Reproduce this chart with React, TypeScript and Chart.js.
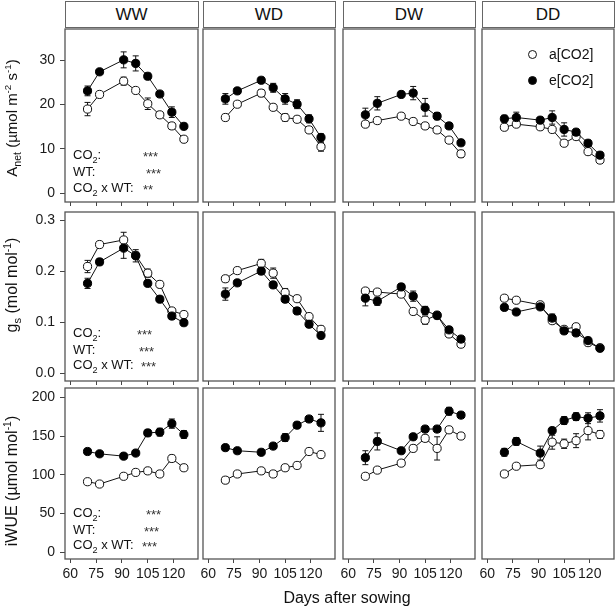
import React, { useEffect, useRef } from "react";
import { Chart, registerables } from "chart.js";
Chart.register(...registerables);

// ---------- data ----------
const days = [70, 77, 91, 98, 105, 112, 119, 126];
const treatments = ["WW", "WD", "DW", "DD"];
const xTickValues = [60, 75, 90, 105, 120];
const anetTicks = [0, 10, 20, 30];
const gsTicks = [0, 0.1, 0.2, 0.3];
const iwueTicks = [0, 50, 100, 150, 200];

// Anet (µmol m-2 s-1)
const anetAmbWW = [19.0, 22.3, 25.3, 23.2, 20.2, 17.7, 15.2, 12.2];
const anetElevWW = [23.1, 27.4, 30.1, 29.3, 26.4, 22.4, 18.3, 15.1];
const anetAmbWD = [17.1, 20.1, 22.6, 19.4, 17.1, 16.7, 14.3, 10.5];
const anetElevWD = [21.3, 23.1, 25.5, 23.8, 21.3, 20.1, 16.8, 12.6];
const anetAmbDW = [15.6, 16.4, 17.4, 16.2, 15.2, 14.3, 12.0, 8.9];
const anetElevDW = [17.7, 20.3, 22.3, 22.6, 19.4, 17.4, 15.2, 11.4];
const anetAmbDD = [14.9, 15.6, 15.0, 14.4, 11.3, 12.8, 9.4, 7.5];
const anetElevDD = [16.8, 17.1, 16.5, 17.1, 14.4, 13.8, 11.3, 8.6];

const anetAmbErrWW = [1.5, 0.6, 0.9, 0.5, 1.3, 0.5, 0.7, 0.5];
const anetElevErrWW = [1.1, 0.5, 1.8, 1.7, 0.7, 0.5, 1.2, 0.6];
const anetAmbErrWD = [0.7, 0.6, 0.8, 0.5, 0.8, 0.5, 0.6, 1.0];
const anetElevErrWD = [1.2, 0.5, 0.6, 1.0, 1.2, 1.0, 0.9, 0.8];
const anetAmbErrDW = [0.6, 0.6, 0.5, 0.5, 0.5, 0.5, 0.5, 0.8];
const anetElevErrDW = [1.5, 1.5, 0.5, 1.5, 2.0, 0.8, 0.5, 0.6];
const anetAmbErrDD = [0.6, 0.6, 0.5, 0.6, 0.5, 0.5, 0.6, 0.6];
const anetElevErrDD = [0.8, 1.2, 0.6, 1.5, 1.5, 0.6, 0.5, 0.6];

// gs (mol mol-1)
const gsAmbWW = [0.209, 0.252, 0.261, 0.231, 0.196, 0.174, 0.122, 0.115];
const gsElevWW = [0.176, 0.218, 0.245, 0.230, 0.176, 0.145, 0.112, 0.099];
const gsAmbWD = [0.185, 0.201, 0.215, 0.196, 0.158, 0.146, 0.111, 0.086];
const gsElevWD = [0.155, 0.177, 0.200, 0.173, 0.145, 0.122, 0.096, 0.074];
const gsAmbDW = [0.161, 0.159, 0.155, 0.121, 0.104, 0.114, 0.077, 0.057];
const gsElevDW = [0.147, 0.141, 0.169, 0.151, 0.123, 0.113, 0.085, 0.067];
const gsAmbDD = [0.147, 0.143, 0.134, 0.103, 0.086, 0.091, 0.060, 0.050];
const gsElevDD = [0.129, 0.120, 0.130, 0.108, 0.083, 0.079, 0.064, 0.049];

const gsAmbErrWW = [0.012, 0.006, 0.015, 0.006, 0.008, 0.006, 0.005, 0.006];
const gsElevErrWW = [0.010, 0.006, 0.020, 0.012, 0.006, 0.005, 0.006, 0.005];
const gsAmbErrWD = [0.006, 0.005, 0.008, 0.010, 0.008, 0.005, 0.006, 0.006];
const gsElevErrWD = [0.012, 0.005, 0.006, 0.006, 0.006, 0.006, 0.006, 0.006];
const gsAmbErrDW = [0.005, 0.005, 0.005, 0.005, 0.008, 0.005, 0.005, 0.006];
const gsElevErrDW = [0.015, 0.008, 0.006, 0.010, 0.008, 0.006, 0.005, 0.005];
const gsAmbErrDD = [0.005, 0.005, 0.005, 0.005, 0.005, 0.005, 0.005, 0.005];
const gsElevErrDD = [0.005, 0.005, 0.005, 0.008, 0.005, 0.005, 0.005, 0.004];

// iWUE (µmol mol-1)
const iwueAmbWW = [91, 88, 98, 103, 105, 101, 121, 109];
const iwueElevWW = [130, 127, 124, 128, 154, 155, 166, 152];
const iwueAmbWD = [93, 101, 105, 101, 109, 112, 130, 126];
const iwueElevWD = [135, 131, 129, 137, 148, 164, 172, 167];
const iwueAmbDW = [98, 106, 115, 134, 147, 134, 158, 150];
const iwueElevDW = [122, 143, 131, 149, 159, 159, 182, 177];
const iwueAmbDD = [101, 111, 113, 142, 140, 144, 157, 152];
const iwueElevDD = [129, 143, 128, 157, 170, 175, 173, 176];

const iwueAmbErrWW = [3, 3, 3, 3, 3, 3, 4, 3];
const iwueElevErrWW = [3, 3, 3, 3, 4, 5, 6, 5];
const iwueAmbErrWD = [4, 3, 3, 3, 3, 3, 3, 3];
const iwueElevErrWD = [3, 3, 3, 3, 5, 3, 3, 11];
const iwueAmbErrDW = [3, 3, 3, 4, 4, 15, 3, 3];
const iwueElevErrDW = [9, 11, 3, 3, 3, 3, 5, 3];
const iwueAmbErrDD = [3, 3, 3, 9, 6, 9, 12, 5];
const iwueElevErrDD = [5, 5, 9, 3, 5, 5, 7, 8];

const ambSeries = [
  [anetAmbWW, anetAmbWD, anetAmbDW, anetAmbDD],
  [gsAmbWW, gsAmbWD, gsAmbDW, gsAmbDD],
  [iwueAmbWW, iwueAmbWD, iwueAmbDW, iwueAmbDD],
];
const elevSeries = [
  [anetElevWW, anetElevWD, anetElevDW, anetElevDD],
  [gsElevWW, gsElevWD, gsElevDW, gsElevDD],
  [iwueElevWW, iwueElevWD, iwueElevDW, iwueElevDD],
];
const ambErrors = [
  [anetAmbErrWW, anetAmbErrWD, anetAmbErrDW, anetAmbErrDD],
  [gsAmbErrWW, gsAmbErrWD, gsAmbErrDW, gsAmbErrDD],
  [iwueAmbErrWW, iwueAmbErrWD, iwueAmbErrDW, iwueAmbErrDD],
];
const elevErrors = [
  [anetElevErrWW, anetElevErrWD, anetElevErrDW, anetElevErrDD],
  [gsElevErrWW, gsElevErrWD, gsElevErrDW, gsElevErrDD],
  [iwueElevErrWW, iwueElevErrWD, iwueElevErrDW, iwueElevErrDD],
];
const rowTicks = [anetTicks, gsTicks, iwueTicks];

// ---------- layout ----------
const FONT = "'Liberation Sans', Arial, sans-serif";
const cols = [
  { left: 65, right: 198 },
  { left: 203, right: 335 },
  { left: 343, right: 475 },
  { left: 482, right: 614 },
];
const rows = [
  { top: 29, bottom: 202, min: -1.96, max: 37.06 },
  { top: 212, bottom: 381, min: -0.0151, max: 0.3157 },
  { top: 388, bottom: 559, min: -8.8, max: 212 },
];
const X_MIN = 56.9;
const X_MAX = 134.2;

const boxAndErrors = {
  id: "boxAndErrors",
  beforeDatasetsDraw(chart: any) {
    const ctx = chart.ctx;
    const xs = chart.scales.x;
    const ys = chart.scales.y;
    ctx.save();
    ctx.strokeStyle = "#111";
    ctx.lineWidth = 1;
    chart.data.datasets.forEach((ds: any) => {
      const errs = ds.errors;
      if (!errs) return;
      ds.data.forEach((p: any, i: number) => {
        const px = xs.getPixelForValue(p.x);
        const y1 = ys.getPixelForValue(p.y + errs[i]);
        const y2 = ys.getPixelForValue(p.y - errs[i]);
        ctx.beginPath();
        ctx.moveTo(px, y1);
        ctx.lineTo(px, y2);
        ctx.moveTo(px - 3, y1);
        ctx.lineTo(px + 3, y1);
        ctx.moveTo(px - 3, y2);
        ctx.lineTo(px + 3, y2);
        ctx.stroke();
      });
    });
    ctx.restore();
  },
  afterDraw(chart: any) {
    const ctx = chart.ctx;
    const a = chart.chartArea;
    ctx.save();
    ctx.strokeStyle = "#555";
    ctx.lineWidth = 1.3;
    ctx.strokeRect(a.left, a.top, a.right - a.left, a.bottom - a.top);
    ctx.restore();
  },
};

function Panel({ r, c }: { r: number; c: number }) {
  const ref = useRef<HTMLCanvasElement>(null);
  const col = cols[c];
  const row = rows[r];
  const L = c === 0 ? col.left : 4;
  const R = 1;
  const T = 1;
  const B = r === 2 ? 40 : 8;
  const w = L + (col.right - col.left) + R;
  const h = T + (row.bottom - row.top) + B;

  useEffect(() => {
    const mk = (vals: number[]) => days.map((d, i) => ({ x: d, y: vals[i] }));
    const chart = new Chart(ref.current as HTMLCanvasElement, {
      type: "line",
      data: {
        datasets: [
          {
            label: "e[CO2]",
            data: mk(elevSeries[r][c]),
            errors: elevErrors[r][c],
            borderColor: "#111",
            borderWidth: 1,
            pointRadius: 4.1,
            pointBackgroundColor: "#000",
            pointBorderColor: "#000",
            pointBorderWidth: 1,
            tension: 0,
            order: 0,
          } as any,
          {
            label: "a[CO2]",
            data: mk(ambSeries[r][c]),
            errors: ambErrors[r][c],
            borderColor: "#111",
            borderWidth: 1,
            pointRadius: 4.1,
            pointBackgroundColor: "#fff",
            pointBorderColor: "#111",
            pointBorderWidth: 1,
            tension: 0,
            order: 1,
          } as any,
        ],
      },
      options: {
        responsive: false,
        animation: false,
        layout: { autoPadding: false, padding: { top: T, right: R, left: 0, bottom: 0 } },
        plugins: { legend: { display: false }, tooltip: { enabled: false } },
        scales: {
          x: {
            type: "linear",
            min: X_MIN,
            max: X_MAX,
            afterBuildTicks: (s: any) => {
              s.ticks = xTickValues.map((v) => ({ value: v }));
            },
            afterFit: (s: any) => {
              s.height = B;
              s.paddingLeft = 0;
              s.paddingRight = 0;
              s.paddingTop = 0;
              s.paddingBottom = 0;
            },
            ticks: {
              display: r === 2,
              autoSkip: false,
              maxRotation: 0,
              minRotation: 0,
              padding: 3,
              color: "#1a1a1a",
              font: { family: FONT, size: 14 },
              callback: (v: any) => String(v),
            },
            grid: {
              display: true,
              drawOnChartArea: false,
              drawTicks: true,
              tickLength: 4,
              color: "#444",
              lineWidth: 1,
            },
            border: { display: false },
          },
          y: {
            type: "linear",
            min: row.min,
            max: row.max,
            afterBuildTicks: (s: any) => {
              s.ticks = rowTicks[r].map((v) => ({ value: v }));
            },
            afterFit: (s: any) => {
              s.width = L;
              s.paddingLeft = 0;
              s.paddingRight = 0;
              s.paddingTop = 0;
              s.paddingBottom = 0;
            },
            ticks: {
              display: c === 0,
              padding: 5,
              color: "#1a1a1a",
              font: { family: FONT, size: 14 },
              callback: (v: any) => (r === 1 ? Number(v).toFixed(1) : String(v)),
            },
            grid: {
              display: c === 0,
              drawOnChartArea: false,
              drawTicks: true,
              tickLength: 5,
              color: "#444",
              lineWidth: 1,
            },
            border: { display: false },
          },
        },
      } as any,
      plugins: [boxAndErrors as any],
    });
    return () => chart.destroy();
  }, []);

  return (
    <canvas
      ref={ref}
      width={w}
      height={h}
      style={{ position: "absolute", left: col.left - L, top: row.top - T, width: w, height: h }}
    />
  );
}

const sub = { fontSize: "0.7em", verticalAlign: "sub", lineHeight: 0 } as const;
const sup = { fontSize: "0.65em", verticalAlign: "super", lineHeight: 0 } as const;

function VTitle({ cx, cy, size, children }: { cx: number; cy: number; size: number; children: any }) {
  return (
    <div
      style={{
        position: "absolute",
        left: cx,
        top: cy,
        transform: "translate(-50%, -50%) rotate(-90deg)",
        whiteSpace: "nowrap",
        fontFamily: FONT,
        fontSize: size,
        color: "#111",
        lineHeight: "18px",
      }}
    >
      {children}
    </div>
  );
}

const annotRows = [
  { ys: [155, 172, 188], starX: [143, 146, 143], stars: ["***", "***", "**"] },
  { ys: [333, 350, 365], starX: [137, 139, 141], stars: ["***", "***", "***"] },
  { ys: [513, 530, 545], starX: [146, 144, 142], stars: ["***", "***", "***"] },
];

function Annot({ a }: { a: (typeof annotRows)[number] }) {
  const base = {
    position: "absolute" as const,
    fontFamily: FONT,
    fontSize: 13,
    lineHeight: "16px",
    color: "#111",
    whiteSpace: "nowrap" as const,
  };
  const labels = [
    <span key="0">
      CO<span style={sub}>2</span>:
    </span>,
    <span key="1">WT:</span>,
    <span key="2">
      CO<span style={sub}>2</span> x WT:
    </span>,
  ];
  return (
    <>
      {a.ys.map((y, i) => (
        <React.Fragment key={i}>
          <div style={{ ...base, left: 73, top: y - 8 }}>{labels[i]}</div>
          <div style={{ ...base, left: a.starX[i], top: y - 6, color: "#333" }}>{a.stars[i]}</div>
        </React.Fragment>
      ))}
    </>
  );
}

export default function App() {
  return (
    <div
      style={{
        position: "absolute",
        left: 0,
        top: 0,
        width: 615,
        height: 607,
        background: "#fff",
        overflow: "hidden",
      }}
    >
      {treatments.map((t, c) => (
        <div
          key={t}
          style={{
            position: "absolute",
            left: cols[c].left - 0.5,
            top: 1,
            width: cols[c].right - cols[c].left + 1,
            height: 27,
            boxSizing: "border-box",
            border: "1.3px solid #666",
            display: "flex",
            alignItems: "center",
            justifyContent: "center",
            fontFamily: FONT,
            fontSize: 17,
            color: "#111",
          }}
        >
          {t}
        </div>
      ))}
      {[0, 1, 2].map((r) => [0, 1, 2, 3].map((c) => <Panel key={`${r}-${c}`} r={r} c={c} />))}

      <VTitle cx={12} cy={118} size={15}>
        A<span style={sub}>net</span> (µmol m<span style={sup}>-2</span> s<span style={sup}>-1</span>)
      </VTitle>
      <VTitle cx={12} cy={285} size={16}>
        g<span style={sub}>s</span> (mol mol<span style={sup}>-1</span>)
      </VTitle>
      <VTitle cx={12} cy={481} size={16}>
        iWUE (µmol mol<span style={sup}>-1</span>)
      </VTitle>

      <div
        style={{
          position: "absolute",
          left: 347,
          top: 598,
          transform: "translate(-50%, -50%)",
          fontFamily: FONT,
          fontSize: 16,
          color: "#111",
          whiteSpace: "nowrap",
        }}
      >
        Days after sowing
      </div>

      {annotRows.map((a, i) => (
        <Annot key={i} a={a} />
      ))}

      {[
        { y: 54, fill: "#fff", label: "a[CO2]" },
        { y: 80, fill: "#000", label: "e[CO2]" },
      ].map((it) => (
        <React.Fragment key={it.label}>
          <div
            style={{
              position: "absolute",
              left: 532 - 4.5,
              top: it.y - 4.5,
              width: 9,
              height: 9,
              boxSizing: "border-box",
              borderRadius: "50%",
              border: "1px solid #111",
              background: it.fill,
            }}
          />
          <div
            style={{
              position: "absolute",
              left: 549,
              top: it.y - 9,
              lineHeight: "18px",
              fontFamily: FONT,
              fontSize: 14,
              color: "#111",
              whiteSpace: "nowrap",
            }}
          >
            {it.label}
          </div>
        </React.Fragment>
      ))}
    </div>
  );
}
